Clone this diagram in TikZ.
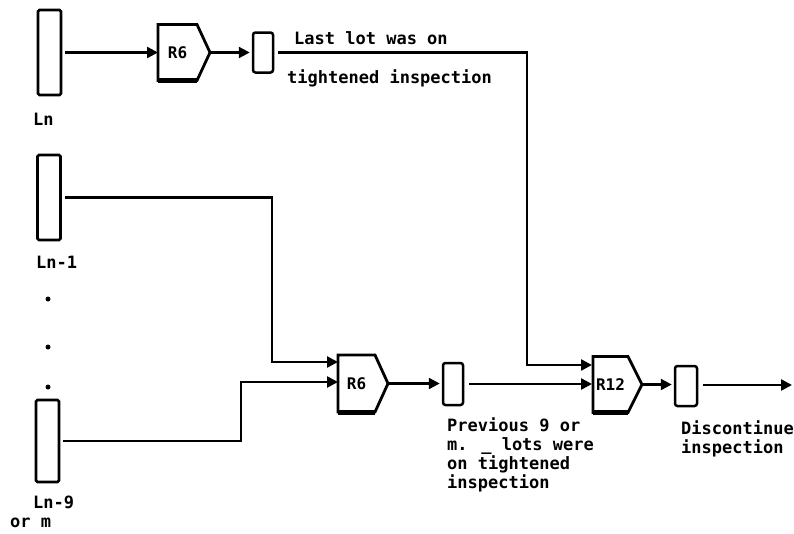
\documentclass[tikz,border=0pt]{standalone}
\usepackage{fontspec}
\newfontfamily\dm{DejaVu Sans Mono}
\usetikzlibrary{arrows.meta,calc}
\begin{document}
\begin{tikzpicture}[x=1pt,y=-1pt,
  lot/.style={draw, line width=2.8pt, rounded corners=1.5pt, inner sep=0pt, minimum width=23pt, minimum height=85pt},
  buf/.style={draw, line width=2.5pt, rounded corners=2.5pt, inner sep=0pt, minimum width=20pt, minimum height=40pt},
  gate/.style={inner sep=0pt, outer sep=0pt, minimum height=56pt, font=\dm\bfseries\fontsize{16}{16}\selectfont},
  gline/.style={line width=2.8pt, line join=miter},
  gbase/.style={line width=5pt},
  conn/.style={line width=2.4pt},
  arr/.style={conn, -{Triangle[length=11pt,width=11pt]}},
  lbl/.style={font=\dm\bfseries\fontsize{17}{19}\selectfont, inner sep=0pt, align=left},
  dotmark/.style={circle, fill, inner sep=0pt, minimum size=5pt},
]
\useasboundingbox (0,0) rectangle (794,533);

% lots
\node[lot] (ln) at (49.5,52.5) {};
\node[lot] (ln1) at (49,197.5) {};
\node[lot, minimum height=82pt] (ln9) at (47.5,441) {};
\node[dotmark] (d1) at (48,299) {};
\node[dotmark] (d2) at (48,347) {};
\node[dotmark] (d3) at (48,387) {};

% labels of lots
\node[lbl, anchor=base west] (lnl) at (33,125) {Ln};
\node[lbl, anchor=base west] (ln1l) at (36,268) {Ln-1};
\node[lbl, anchor=base west] (ln9l) at (33,508) {Ln-9};
\node[lbl, anchor=base west] (orm) at (10,527) {or m};

% gates (body nodes + pointer tips)
\node[gate, minimum width=39pt] (r6a) at (177.5,52.5) {R6};
\coordinate (r6a-tip) at ($(r6a.east)+(13,0)$);
\node[gate, minimum width=37pt, minimum height=57pt] (r6b) at (356.5,383.5) {R6};
\coordinate (r6b-tip) at ($(r6b.east)+(13,0)$);
\node[gate, minimum width=35pt] (r12) at (610.5,384.5) {R12};
\coordinate (r12-tip) at ($(r12.east)+(14,0)$);

\foreach \g in {r6a,r6b,r12}{
  \draw[gline] (\g.south west) -- (\g.north west) -- (\g.north east) -- (\g-tip) -- (\g.south east) -- cycle;
  \draw[gbase] (\g.south west) -- (\g.south east);
}

% buffers
\node[buf] (b1) at (263,52.5) {};
\node[buf, minimum height=42pt] (b2) at (453,384) {};
\node[buf, minimum width=22pt] (b3) at (686,386) {};

% connectors
\draw[arr, shorten <=3pt] (ln.east) -- (r6a.west);
\draw[arr, shorten >=2pt] (r6a-tip) -- (b1.west);
\coordinate (c3) at (527,365);
\draw[arr, shorten <=4pt, shorten >=1pt] (b1.east) -| (c3) -- (c3 -| r12.west);

\coordinate (c1) at (272,362);
\draw[arr, shorten <=3pt] (ln1.east) -| (c1) -- (c1 -| r6b.west);
\coordinate (c2) at (241,382);
\draw[arr, shorten <=3pt] (ln9.east) -| (c2) -- (c2 -| r6b.west);

\draw[arr, shorten >=2pt] (r6b-tip) -- (r6b-tip -| b2.west);
\draw[arr, shorten <=5pt, shorten >=1pt] (b2.east) -- (b2.east -| r12.west);
\draw[arr, shorten >=2pt] (r12-tip) -- (r12-tip -| b3.west);
\coordinate (out) at (792,385);
\draw[arr, shorten <=5pt] (b3.east |- out) -- (out);

% texts
\node[lbl, anchor=base west] (t1) at (294,44) {Last lot was on};
\node[lbl, anchor=base west] (t2) at (287,83) {tightened inspection};
\node[lbl, anchor=north west] (t3) at (447,417) {Previous 9 or\\m. \_ lots were\\on tightened\\inspection};
\node[lbl, anchor=north west] (t4) at (681,420) {Discontinue\\inspection};
\end{tikzpicture}
\end{document}
